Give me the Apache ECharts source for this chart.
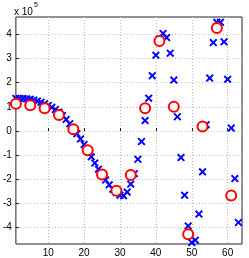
<!DOCTYPE html>
<html>
<head>
<meta charset="utf-8">
<script src="https://cdn.jsdelivr.net/npm/echarts@6/dist/echarts.min.js"></script>
<style>html,body{margin:0;padding:0;background:#fff;}#c{width:249px;height:258px;}</style>
</head>
<body>
<div id="c"></div>
<script>
// values in units of 1e5 (axis multiplier "x 10^5")
const crossX = [1,2,3,4,5,6,7,8,9,10,11,12,13,14,15,16,17,18,19,20,21,22,23,24,25,26,27,28,29,30,31,32,33,34,35,36,37,38,39,40,41,42,43,44,45,46,47,48,49,50,51,52,53,54,55,56,57,58,59,60,61,62,63];
const crossY = [1.35,1.35,1.34,1.33,1.31,1.28,1.24,1.19,1.13,1.06,0.98,0.89,0.78,0.64,0.48,0.30,0.10,-0.11,-0.33,-0.56,-0.81,-1.07,-1.33,-1.58,-1.81,-2.03,-2.23,-2.41,-2.55,-2.66,-2.68,-2.53,-2.20,-1.77,-1.17,-0.44,0.43,1.36,2.29,3.14,3.80,4.04,3.87,3.22,2.11,0.59,-1.10,-2.66,-3.93,-4.62,-4.52,-3.44,-1.69,0.26,2.19,3.66,4.50,4.50,3.69,2.14,0.12,-1.97,-3.79];
const circleX = [1,5,9,13,17,21,25,29,33,37,41,45,49,53,57,61];
const circleY = [1.13,1.07,0.94,0.66,0.07,-0.80,-1.80,-2.47,-1.82,0.94,3.73,1.00,-4.28,0.19,4.26,-2.67];
const xTicks = [10,20,30,40,50,60];
const yTicks = [-4,-3,-2,-1,0,1,2,3,4];
const multiplierText = 'x 10';
const multiplierExp = '5';

const crossPath = 'path://M1.7,0L5,3.3L8.3,0L10,1.7L6.7,5L10,8.3L8.3,10L5,6.7L1.7,10L0,8.3L3.3,5L0,1.7Z';
const font = 'Liberation Sans, Arial, Helvetica, sans-serif';

const chart = echarts.init(document.getElementById('c'), null, {renderer: 'canvas'});
chart.setOption({
  animation: false,
  backgroundColor: '#fff',
  grid: {left: 14, top: 17, width: 228, height: 228, show: true, borderColor: '#222', borderWidth: 1, backgroundColor: 'transparent'},
  xAxis: {
    type: 'value', min: 1, max: 64,
    axisLine: {show: false},
    axisTick: {show: true, inside: true, length: 3, lineStyle: {color: '#222'}, customValues: xTicks},
    axisLabel: {customValues: xTicks, color: '#000', fontSize: 10, fontFamily: font, margin: 4},
    splitLine: {show: true, lineStyle: {color: '#bbbbbb', type: [1, 2], width: 1}}
  },
  yAxis: {
    type: 'value', min: -4.68, max: 4.72,
    axisLine: {show: false},
    axisTick: {show: true, inside: true, length: 3, lineStyle: {color: '#222'}, customValues: yTicks},
    axisLabel: {customValues: yTicks, color: '#000', fontSize: 10, fontFamily: font, margin: 4,
      formatter: v => String(Math.round(v))},
    splitLine: {show: true, lineStyle: {color: '#bbbbbb', type: [1, 2], width: 1}}
  },
  graphic: [
    {type: 'text', left: 14, top: 7, style: {text: multiplierText, fontSize: 10, fontFamily: font, fill: '#000'}},
    {type: 'text', left: 34, top: 2, style: {text: multiplierExp, fontSize: 7, fontFamily: font, fill: '#000'}}
  ],
  series: [
    {
      type: 'scatter', symbol: crossPath, symbolSize: 8,
      itemStyle: {color: '#0000ff', opacity: 1},
      data: crossX.map((x, i) => [x, crossY[i]]),
      z: 2
    },
    {
      type: 'scatter', symbol: 'emptyCircle', symbolSize: 10,
      itemStyle: {color: '#ff0000', borderColor: '#ff0000', borderWidth: 1.5, opacity: 1},
      data: circleX.map((x, i) => [x, circleY[i]]),
      z: 3
    }
  ]
});
</script>
</body>
</html>
